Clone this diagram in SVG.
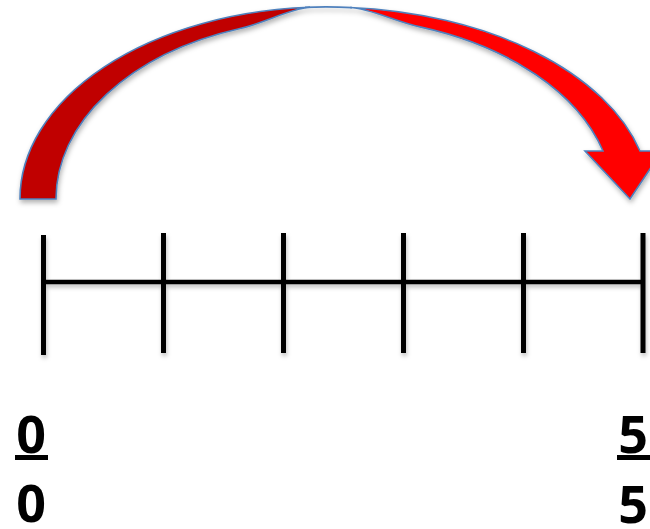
<svg xmlns="http://www.w3.org/2000/svg" width="650" height="529" viewBox="0 0 650 529">
  <defs>
    <filter id="shadow" x="-10%" y="-10%" width="120%" height="130%">
      <feDropShadow dx="1" dy="3" stdDeviation="2.5" flood-color="#000" flood-opacity="0.3"/>
    </filter>
    <filter id="lshadow" x="-10%" y="-10%" width="120%" height="130%">
      <feDropShadow dx="1" dy="3" stdDeviation="2" flood-color="#000" flood-opacity="0.25"/>
    </filter>
  </defs>
  <style>
    .band { stroke: #4F81BD; stroke-width: 1.6; stroke-linejoin: miter; }
    .back { fill: #C00000; }
    .front { fill: #FF0000; }
    .tick { stroke: #000; stroke-width: 5; fill: none; }
    .axis { stroke: #000; stroke-width: 4.5; fill: none; }
    .num { font-family: "Open Sans", "Liberation Sans", sans-serif; font-weight: bold; font-size: 52px; fill: #000; text-anchor: middle; }
    .bar { stroke: #000; stroke-width: 5; }
  </style>

  <g id="jump-arrow" filter="url(#shadow)">
    <path class="band back" d="M20,199 A307,192 0 0 1 310,7.3 C290,8.5 265,22.9 240,28.5 A271,180 0 0 0 56,199 Z"/>
    <path class="band" fill="none" d="M305,7.4 Q327,6.2 352,7.6"/>
    <path class="band front" d="M350,7.5 A323,192 0 0 1 640,151 L662,151 L630,199 L585,151 L603,151 A286,182 0 0 0 420,26.9 C395,21.4 370,8.3 350,7.5 Z"/>
  </g>

  <g id="number-line" filter="url(#lshadow)">
    <line class="axis" x1="43" y1="282" x2="643" y2="282"/>
    <g id="tick-0"><line class="tick" x1="43.5" y1="235" x2="43.5" y2="355"/></g>
    <g id="tick-1"><line class="tick" x1="163.5" y1="233" x2="163.5" y2="353"/></g>
    <g id="tick-2"><line class="tick" x1="283.5" y1="233" x2="283.5" y2="353"/></g>
    <g id="tick-3"><line class="tick" x1="403.5" y1="233" x2="403.5" y2="353"/></g>
    <g id="tick-4"><line class="tick" x1="523.5" y1="233" x2="523.5" y2="353"/></g>
    <g id="tick-5"><line class="tick" x1="643" y1="233" x2="643" y2="353"/></g>
  </g>

  <g id="label-start">
    <text class="num" x="31" y="453">0</text>
    <line class="bar" x1="15" y1="457.5" x2="48" y2="457.5"/>
    <text class="num" x="31" y="522">0</text>
  </g>
  <g id="label-end">
    <text class="num" x="633" y="453">5</text>
    <line class="bar" x1="617" y1="457.5" x2="650" y2="457.5"/>
    <text class="num" x="633" y="523">5</text>
  </g>
</svg>
